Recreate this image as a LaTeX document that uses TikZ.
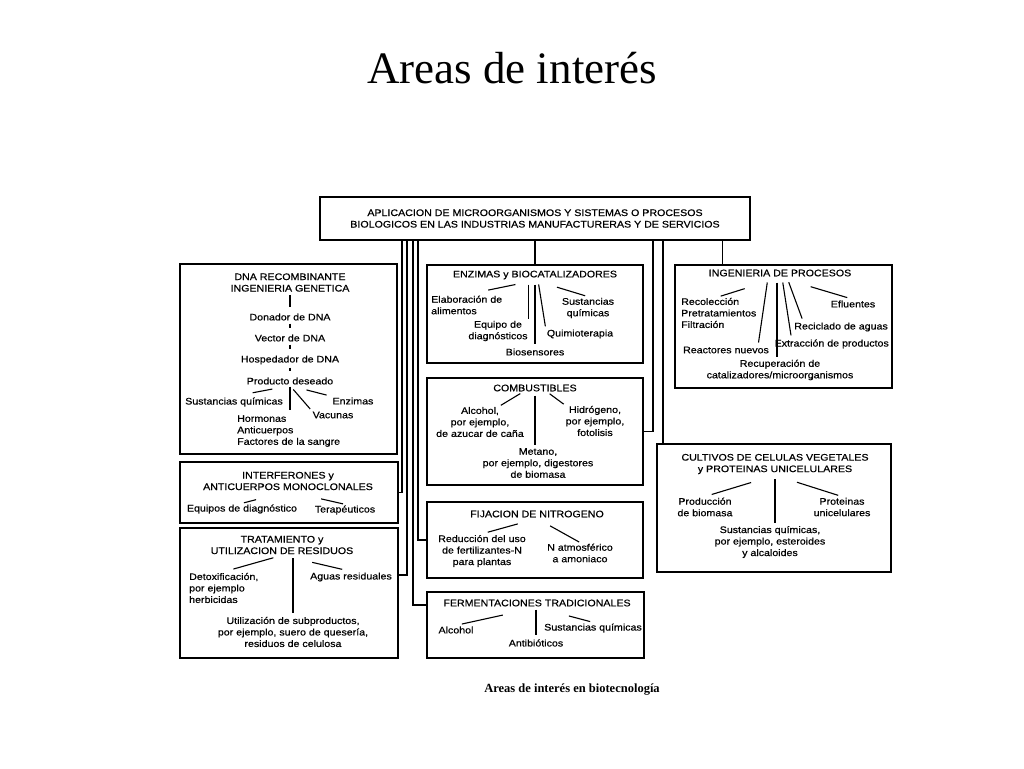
\documentclass[tikz,border=0pt]{standalone}
\usepackage{fontspec}
\setmainfont{Liberation Serif}
\newfontfamily\boxfont[FakeStretch=1.12,FakeBold=0.6]{Liberation Sans}
\tikzset{
    x={1pt},
    y={-1pt},
    area box/.style 2 args={
        draw, rectangle,
        line width={1.7pt},
        minimum width={#1},
        minimum height={#2},
        inner sep=0pt,
        outer sep=0pt,
    },
    area title/.style={
        font={\boxfont\fontsize{9.5}{11.5}\selectfont},
        align=center,
        inner sep=1pt,
    },
    area item/.style={
        area title,
    },
    bus/.style={
        draw,
        line width={1.5pt},
    },
    twig/.style 2 args={
        draw,
        line width={1.1pt},
        shorten <={#1pt},
        shorten >={#2pt},
    },
    twig/.default={1}{1},
}

\begin{document}
\begin{tikzpicture}
\useasboundingbox (0,0) rectangle (1024,768);
% headings
\node[font={\fontsize{45}{50}\selectfont}] (page title) at (512,68) {Areas de interés};
\node[font={\bfseries\fontsize{12.5}{14}\selectfont}] (caption) at (572,690) {Areas de interés en biotecnología};
% boxes
\node[area box={430}{43}, area title] (app) at (535,218.5) {APLICACION DE MICROORGANISMOS Y SISTEMAS O PROCESOS\\BIOLOGICOS EN LAS INDUSTRIAS MANUFACTURERAS Y DE SERVICIOS};
\node[area box={217}{190}] (dna) at (288.5,359) {};
\node[area box={218}{61}] (interf) at (289,492.5) {};
\node[area box={218}{130}] (trat) at (289,593) {};
\node[area box={216}{98}] (enz) at (535,314) {};
\node[area box={216}{107}] (comb) at (535,431.5) {};
\node[area box={216}{76}] (fij) at (535,540) {};
\node[area box={217}{66}] (ferm) at (535.5,625) {};
\node[area box={217}{123}] (ing) at (783.5,326.5) {};
\node[area box={234}{128}] (cult) at (774,508) {};
% bus
\draw[bus] (app.south -| enz.north) -- (enz.north);
\draw[bus] ([xshift=4]interf.east |- app.south) |- (interf.east);
\draw[bus] ([xshift=9]trat.east |- app.south) |- ([yshift=18]trat.east);
\draw[bus] ([xshift=-14]ferm.west |- app.south) |- ([yshift=20]ferm.west);
\draw[bus] ([xshift=-9]fij.west |- app.south) |- (fij.west);
\draw[bus] ([xshift=10]comb.east |- app.south) |- (comb.east);
\draw[bus] ([xshift=6]cult.north west |- app.south) -- ([xshift=6]cult.north west);
\draw[bus] ([xshift=-61]ing.north |- app.south) -- ([xshift=-61]ing.north);
% DNA recombinante
\node[area title] (dna title) at (290,282.5) {DNA RECOMBINANTE\\INGENIERIA GENETICA};
\node[area item] (dna donor) at (290,317) {Donador de DNA};
\node[area item] (dna vector) at (290,338) {Vector de DNA};
\node[area item] (dna host) at (290,360) {Hospedador de DNA};
\node[area item] (dna product) at (290,381) {Producto deseado};
\node[area item, anchor=east] (dna chem) at (284,402) {Sustancias químicas};
\node[area item, anchor=west, align=left] (dna hormones) at (236,431) {Hormonas\\Anticuerpos\\Factores de la sangre};
\node[area item] (dna vaccines) at (333,415) {Vacunas};
\node[area item] (dna enzymes) at (353,401) {Enzimas};
\draw[twig={2}{5}] (dna title.south) -- (dna donor.north);
\draw[twig={2}{5}] (dna donor.south) -- (dna vector.north);
\draw[twig={2}{5}] (dna vector.south) -- (dna host.north);
\draw[twig={2}{5}] (dna host.south) -- (dna product.north);
\draw[twig={18}{19}] (dna product.south) -- (dna chem.north);
\draw[twig={1}{4}] (dna product.south) -- (dna product.south |- dna hormones.north);
\draw[twig={5}{2}] (dna product.south) -- (dna vaccines.north west);
\draw[twig={17}{5}] (dna product.south) -- (dna enzymes.north west);
% interferones
\node[area title] (interf title) at (288,481) {INTERFERONES y\\ANTICUERPOS MONOCLONALES};
\node[area item] (interf diag) at (242,509) {Equipos de diagnóstico};
\node[area item] (interf ther) at (345,510) {Terapéuticos};
\draw[twig={33}{2}] (interf title.south) -- (interf diag.north);
\draw[twig={34}{2}] (interf title.south) -- (interf ther.north);
% residuos
\node[area title] (trat title) at (282,545) {TRATAMIENTO y\\UTILIZACION DE RESIDUOS};
\node[area item, anchor=west, align=left] (trat detox) at (188,588) {Detoxificación,\\por ejemplo\\herbicidas};
\node[area item, anchor=east] (trat water) at (393,577) {Aguas residuales};
\node[area item] (trat byprod) at (293,632) {Utilización de subproductos,\\por ejemplo, suero de quesería,\\residuos de celulosa};
\draw[twig={9}{10}] (trat title.south) -- (trat detox.north);
\draw[twig={3}{3}] (trat byprod.north |- trat title.south) -- (trat byprod.north);
\draw[twig={31}{9}] (trat title.south) -- (trat water.north);
% enzimas
\node[area title] (enz title) at (535,275) {ENZIMAS y BIOCATALIZADORES};
\node[area item, anchor=west, align=left] (enz food) at (430,305) {Elaboración de\\alimentos};
\node[area item] (enz diag) at (498,331) {Equipo de\\diagnósticos};
\node[area item] (enz bios) at (535,352) {Biosensores};
\node[area item] (enz chemo) at (580,334) {Quimioterapia};
\node[area item] (enz chem) at (588,308) {Sustancias\\químicas};
\draw[twig={20}{22}] (enz title.south) -- (enz food.north);
\draw[twig={4}{1}] (enz diag.north east |- enz title.south) -- (enz diag.north east);
\draw[twig={4}{3}] (enz bios.north |- enz title.south) -- (enz bios.north);
\draw[twig={4}{2}] ([xshift=3]enz title.south) -- (enz chemo.north west);
\draw[twig={23}{3}] (enz title.south) -- (enz chem.north);
% combustibles
\node[area title] (comb title) at (535,388) {COMBUSTIBLES};
\node[area item] (comb alcohol) at (480,422) {Alcohol,\\por ejemplo,\\de azucar de caña};
\node[area item] (comb methane) at (538,463) {Metano,\\por ejemplo, digestores\\de biomasa};
\node[area item] (comb hydrogen) at (595,421) {Hidrógeno,\\por ejemplo,\\fotolisis};
\draw[twig={2}{1}] ([xshift=-13]comb title.south) -- ([xshift=20]comb alcohol.north);
\draw[twig={3}{2}] (comb title.south) -- (comb title.south |- comb methane.north);
\draw[twig={2}{1}] ([xshift=13]comb title.south) -- (comb hydrogen.north west);
% nitrogeno
\node[area title] (fij title) at (537,514) {FIJACION DE NITROGENO};
\node[area item] (fij reduce) at (482,551) {Reducción del uso\\de fertilizantes-N\\para plantas};
\node[area item] (fij ammonia) at (580,553) {N atmosférico\\a amoniaco};
\draw[twig={20}{6}] (fij title.south) -- (fij reduce.north);
\draw[twig={15}{1}] (fij title.south) -- (fij ammonia.north);
% fermentaciones
\node[area title] (ferm title) at (537,603) {FERMENTACIONES TRADICIONALES};
\node[area item] (ferm alcohol) at (456,630) {Alcohol};
\node[area item] (ferm antibio) at (536,643) {Antibióticos};
\node[area item, anchor=east] (ferm chem) at (643,628) {Sustancias químicas};
\draw[twig={35}{6}] (ferm title.south) -- (ferm alcohol.north);
\draw[twig={2}{3}] (ferm antibio.north |- ferm title.south) -- (ferm antibio.north);
\draw[twig={33}{3}] (ferm title.south) -- (ferm chem.north);
% procesos
\node[area title] (ing title) at (780,273) {INGENIERIA DE PROCESOS};
\node[area item, anchor=west, align=left] (ing collect) at (680,313) {Recolección\\Pretratamientos\\Filtración};
\node[area item] (ing reactors) at (726,350) {Reactores nuevos};
\node[area item] (ing recovery) at (780,370) {Recuperación de\\catalizadores/microorganismos};
\node[area item, anchor=east] (ing extraction) at (890,344) {Extracción de productos};
\node[area item, anchor=east] (ing recycle) at (889,327) {Reciclado de aguas};
\node[area item] (ing effluent) at (853,304) {Efluentes};
\draw[twig={37}{2}] (ing title.south) -- (ing collect.north);
\draw[twig={5}{3}] ([xshift=-12]ing title.south) -- ([xshift=-12]ing reactors.north east);
\draw[twig={5}{2}] ([xshift=-3]ing title.south) -- ([xshift=-3]ing recovery.north);
\draw[twig={5}{3}] ([xshift=2]ing title.south) -- ([xshift=18]ing extraction.north west);
\draw[twig={5}{3}] ([xshift=7]ing title.south) -- ([xshift=10]ing recycle.north west);
\draw[twig={32}{6}] (ing title.south) -- (ing effluent.north);
% cultivos
\node[area title] (cult title) at (775,464) {CULTIVOS DE CELULAS VEGETALES\\y PROTEINAS UNICELULARES};
\node[area item] (cult biomass) at (705,507) {Producción\\de biomasa};
\node[area item] (cult chem) at (770,542) {Sustancias químicas,\\por ejemplo, esteroides\\y alcaloides};
\node[area item] (cult protein) at (842,507) {Proteinas\\unicelulares};
\draw[twig={25}{7}] (cult title.south) -- (cult biomass.north);
\draw[twig={4}{2}] (cult title.south) -- (cult title.south |- cult chem.north);
\draw[twig={23}{4}] (cult title.south) -- (cult protein.north);
\end{tikzpicture}
\end{document}
